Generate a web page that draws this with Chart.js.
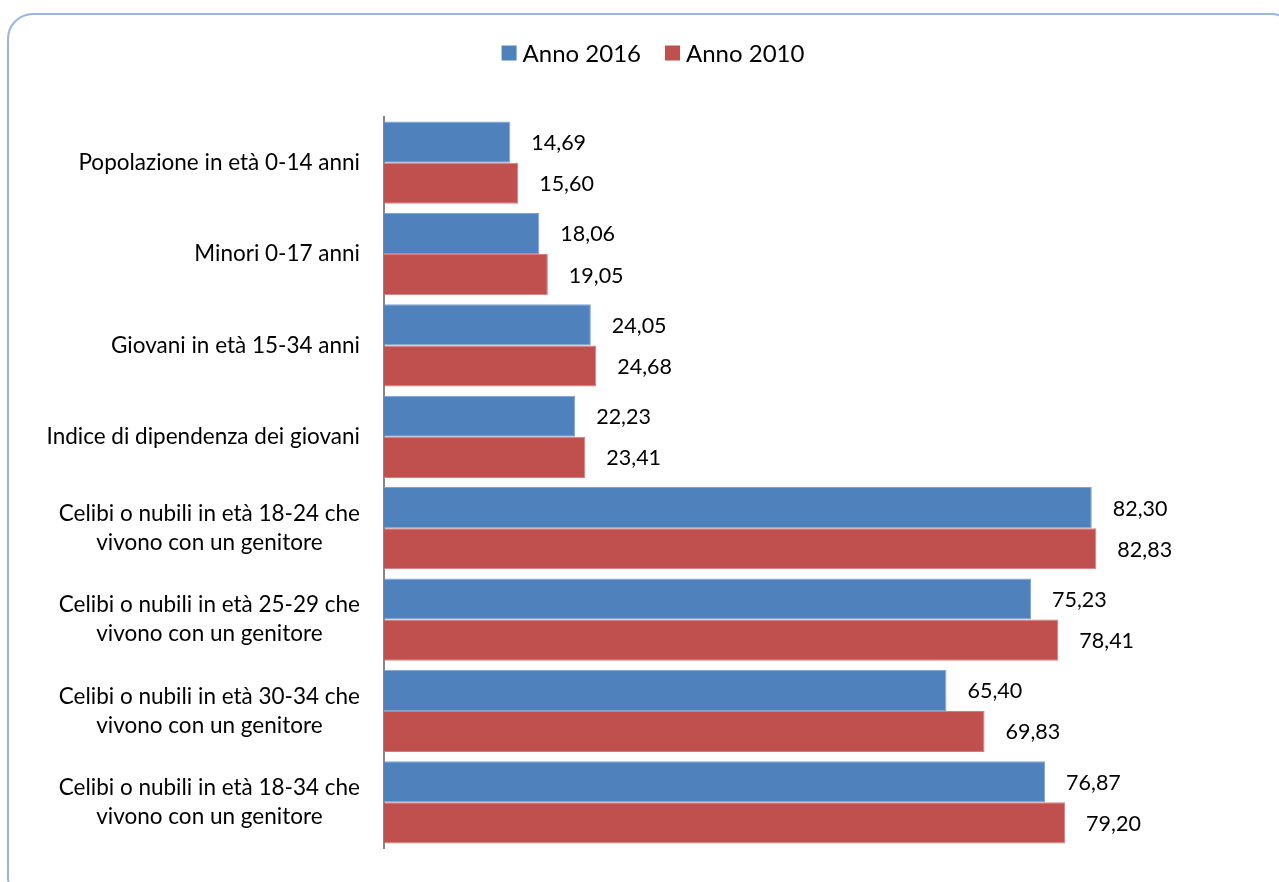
<!DOCTYPE html>
<html>
<head>
<meta charset="utf-8">
<script src="https://cdn.jsdelivr.net/npm/chart.js@4/dist/chart.umd.min.js"></script>
<style>
    html, body { margin: 0; padding: 0; background: #fff; overflow: hidden; }
    #wrap { position: relative; width: 1279px; height: 882px; }
    #frame {
        position: absolute; left: 7px; top: 13px; width: 1290px; height: 890px;
        border: 2px solid #98b5e4; border-radius: 26px; box-sizing: border-box;
    }
    canvas { position: absolute; left: 0; top: 0; }
</style>
</head>
<body>
<div id="wrap">
    <div id="frame"></div>
    <canvas id="chart" width="1279" height="882"></canvas>
</div>
<script>
// Data
const categories = [
    ['Popolazione in età 0-14 anni'],
    ['Minori 0-17 anni'],
    ['Giovani in età 15-34 anni'],
    ['Indice di dipendenza dei giovani'],
    ['Celibi o nubili in età 18-24 che', 'vivono con un genitore'],
    ['Celibi o nubili in età 25-29 che', 'vivono con un genitore'],
    ['Celibi o nubili in età 30-34 che', 'vivono con un genitore'],
    ['Celibi o nubili in età 18-34 che', 'vivono con un genitore']
];
const anno2016 = [14.69, 18.06, 24.05, 22.23, 82.30, 75.23, 65.40, 76.87];
const anno2010 = [15.60, 19.05, 24.68, 23.41, 82.83, 78.41, 69.83, 79.20];

const FONT = 'Lato, "Open Sans", sans-serif';

// value labels at the end of each bar
const valueLabels = {
    id: 'valueLabels',
    afterDatasetsDraw(chart) {
        const ctx = chart.ctx;
        ctx.save();
        ctx.font = '21.5px ' + FONT;
        ctx.fillStyle = '#000';
        ctx.textAlign = 'left';
        ctx.textBaseline = 'middle';
        chart.data.datasets.forEach((ds, di) => {
            chart.getDatasetMeta(di).data.forEach((bar, i) => {
                const txt = ds.data[i].toFixed(2).replace('.', ',');
                ctx.fillText(txt, bar.x + 21, bar.y + 1);
            });
        });
        ctx.restore();
    }
};

// category labels: block right aligned, lines centred in the block
const categoryLabels = {
    id: 'categoryLabels',
    afterDraw(chart) {
        const ctx = chart.ctx;
        const yScale = chart.scales.y;
        const right = 360;
        const lineH = 29;
        ctx.save();
        ctx.font = '22.5px ' + FONT;
        ctx.fillStyle = '#000';
        ctx.textAlign = 'center';
        ctx.textBaseline = 'middle';
        categories.forEach((lines, i) => {
            const y = yScale.getPixelForTick(i);
            const w = Math.max(...lines.map(l => ctx.measureText(l).width));
            const cx = right - w / 2;
            lines.forEach((l, j) => {
                ctx.fillText(l, cx, y + (j - (lines.length - 1) / 2) * lineH);
            });
        });
        ctx.restore();
    }
};

// legend drawn like the office one: small square, tight gap to the text
const topLegend = {
    id: 'topLegend',
    afterDraw(chart) {
        const ctx = chart.ctx;
        const box = 15, gap = 6, spacing = 24, y = 53;
        ctx.save();
        ctx.font = '24px ' + FONT;
        ctx.textBaseline = 'middle';
        ctx.textAlign = 'left';
        const items = chart.data.datasets.map(ds => ({
            text: ds.label, color: ds.backgroundColor,
            w: box + gap + ctx.measureText(ds.label).width
        }));
        const total = items.reduce((s, it) => s + it.w, 0) + spacing * (items.length - 1);
        let x = 653 - total / 2;
        items.forEach(it => {
            ctx.fillStyle = it.color;
            ctx.fillRect(x, y - box / 2, box, box);
            ctx.fillStyle = '#000';
            ctx.fillText(it.text, x + box + gap, y + 1);
            x += it.w + spacing;
        });
        ctx.restore();
    }
};

new Chart(document.getElementById('chart'), {
    type: 'bar',
    data: {
        labels: categories,
        datasets: [{
            label: 'Anno 2016',
            data: anno2016,
            backgroundColor: '#4f81bd',
            borderColor: '#7ea3d3',
            borderWidth: 1
        }, {
            label: 'Anno 2010',
            data: anno2010,
            backgroundColor: '#c0504d',
            borderColor: '#d47e7c',
            borderWidth: 1
        }]
    },
    options: {
        indexAxis: 'y',
        responsive: false,
        animation: false,
        layout: {
            padding: { top: 117, left: 62, right: 35, bottom: 34 }
        },
        datasets: {
            bar: { categoryPercentage: 0.9, barPercentage: 1.0 }
        },
        plugins: {
            legend: { display: false },
            tooltip: { enabled: false }
        },
        scales: {
            x: {
                display: false,
                min: 0,
                max: 100
            },
            y: {
                grid: { display: false },
                border: { display: true, color: '#868686', width: 2 },
                ticks: { display: false },
                afterFit(scale) { scale.width = 322; }
            }
        }
    },
    plugins: [valueLabels, categoryLabels, topLegend]
});
</script>
</body>
</html>
